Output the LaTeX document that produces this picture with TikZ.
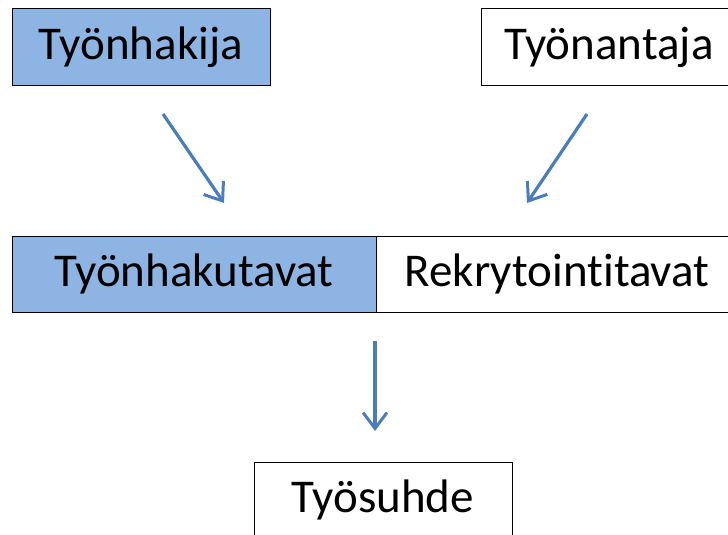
\documentclass[tikz,border=0pt]{standalone}
\usepackage{fontspec}
\setmainfont{Carlito}[Ligatures=NoCommon]
\usetikzlibrary{arrows.meta}
\definecolor{boxblue}{HTML}{8EB4E3}
\definecolor{arrowblue}{HTML}{4A7EBB}
\begin{document}
\begin{tikzpicture}[x=1pt,y=-1pt,
  box/.style={draw=black,line width=1pt,inner sep=0pt,minimum height=77pt,
    font=\fontsize{47}{56}\selectfont,text=black},
  bluebox/.style={box,fill=boxblue},
  whitebox/.style={box,fill=white},
  conn/.style={draw=arrowblue,line width=3.2pt,
    -{Straight Barb[length=16pt,width=24pt,line width=3pt]}}]
\useasboundingbox (0,0) rectangle (728,535);
\clip (0,0) rectangle (728,535);
\node[bluebox,minimum width=258pt] (hakija) at (141,47) {Työnhakija};
\node[whitebox,minimum width=256pt] (antaja) at (609,47) {Työnantaja};
\node[bluebox,minimum width=364pt,minimum height=76pt] (hakutavat) at (194,274) {Työnhakutavat};
\node[whitebox,minimum width=362pt,minimum height=76pt] (rekry) at (557,274) {Rekrytointitavat};
\node[whitebox,minimum width=258pt,minimum height=76pt] (suhde) at (383,500) {Työsuhde};
\coordinate (a1s) at (163,114);
\coordinate (a1e) at (224,203);
\coordinate (a2s) at (587,114);
\coordinate (a2e) at (527,203);
\coordinate (a3s) at (375,341);
\coordinate (a3e) at (375,431);
\draw[conn] (a1s) -- (a1e);
\draw[conn] (a2s) -- (a2e);
\draw[conn] (a3s) -- (a3e);
\end{tikzpicture}
\end{document}
